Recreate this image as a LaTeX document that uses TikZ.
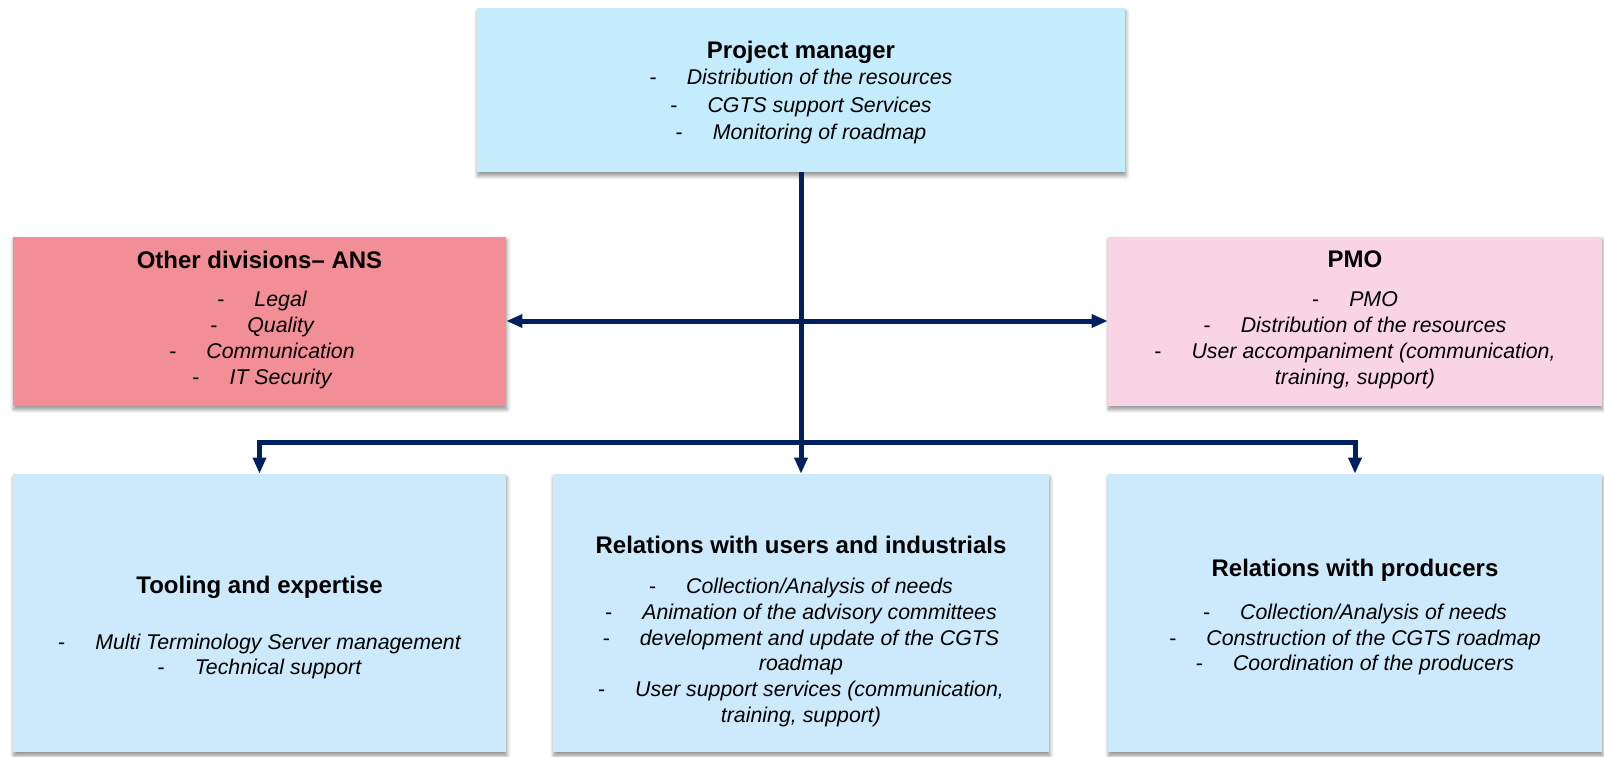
\documentclass[tikz,border=0pt]{standalone}
\usepackage{fontspec}
\setmainfont{Liberation Sans}
\usetikzlibrary{arrows.meta,shadows.blur}
\definecolor{topblue}{HTML}{C4ECFC}
\definecolor{lowblue}{HTML}{CCEAFB}
\definecolor{redbox}{HTML}{F28E95}
\definecolor{pinkbox}{HTML}{F9D4E4}
\definecolor{navy}{HTML}{002060}
\newcommand\itemdash{\textup{-}\hspace{22.5pt}}
\begin{document}
\begin{tikzpicture}[x=0.75pt,y=-0.75pt,
  box/.style={draw=none, rectangle, inner sep=0pt,
    blur shadow={shadow xshift=0.6pt, shadow yshift=-2.8pt, shadow blur steps=6,
      shadow blur radius=3pt, shadow opacity=45}},
  ttl/.style={font=\bfseries\fontsize{18}{21}\selectfont, align=center, inner sep=0pt},
  itm/.style={font=\itshape\fontsize{16}{19.4}\selectfont, align=center, inner sep=0pt},
  conn/.style={draw=navy, line width=3.75pt, line join=miter},
  tip/.style={-{Triangle[length=12pt,width=9.5pt]}},
  dtip/.style={{Triangle[length=12pt,width=9.5pt]}-{Triangle[length=12pt,width=9.5pt]}}
]
\useasboundingbox (0,0) rectangle (1604,757);

% boxes
\node[box, fill=topblue, minimum width=486pt, minimum height=123pt] (pm) at (801,90) {};
\node[box, fill=redbox, minimum width=369.75pt, minimum height=126.75pt] (od) at (259.5,321) {};
\node[box, fill=pinkbox, minimum width=370.5pt, minimum height=126.75pt] (pmo) at (1355,321) {};
\node[box, fill=lowblue, minimum width=369.75pt, minimum height=208.5pt] (tool) at (259.5,613) {};
\node[box, fill=lowblue, minimum width=372pt, minimum height=208.5pt] (rel) at (801,613) {};
\node[box, fill=lowblue, minimum width=370.5pt, minimum height=208.5pt] (prod) at (1355,613) {};

% texts
\node[ttl] (pmt) at (801,52) {Project manager};
\node[itm, font=\itshape\fontsize{16}{20.4}\selectfont] (pmi) at (801,106.5) {\itemdash Distribution of the resources\\ \itemdash CGTS support Services\\ \itemdash Monitoring of roadmap};

\node[ttl] (odt) at (259.5,259.5) {Other divisions-- ANS};
\node[itm] (odi) at (262,340) {\itemdash Legal\\ \itemdash Quality\\ \itemdash Communication\\ \itemdash IT Security};

\node[ttl] (pmot) at (1355,259.5) {PMO};
\node[itm] (pmoi) at (1355,340) {\itemdash PMO\\ \itemdash Distribution of the resources\\ \itemdash User accompaniment (communication,\\ training, support)};

\node[ttl] (toolt) at (259.5,587) {Tooling and expertise};
\node[itm] (tooli) at (259.5,656.5) {\itemdash Multi Terminology Server management\\ \itemdash Technical support};

\node[ttl] (relt) at (801,545) {Relations with users and industrials};
\node[itm] (reli) at (801,652.5) {\itemdash Collection/Analysis of needs\\ \itemdash Animation of the advisory committees\\ \itemdash development and update of the CGTS\\ roadmap\\ \itemdash User support services (communication,\\ training, support)};

\node[ttl] (prodt) at (1355,570) {Relations with producers};
\node[itm] (prodi) at (1355,639.5) {\itemdash Collection/Analysis of needs\\ \itemdash Construction of the CGTS roadmap\\ \itemdash Coordination of the producers};

% connectors
\coordinate (jn) at (801,442);
\draw[conn, tip] (pm.south) -- (rel.north);
\draw[conn, dtip] (od.east) -- (pmo.west);
\draw[conn, dtip] (tool.north) |- (jn) -| (prod.north);
\end{tikzpicture}
\end{document}
